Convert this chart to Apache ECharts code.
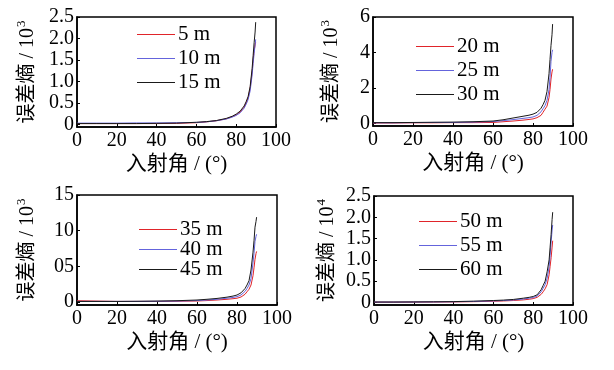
<!DOCTYPE html>
<html><head><meta charset="utf-8">
<script src="https://cdn.jsdelivr.net/npm/echarts@6/dist/echarts.min.js"></script>
<style>html,body{margin:0;padding:0;background:#fff}#c{width:614px;height:370px}</style>
</head><body><div id="c"></div>
<script>
// Incidence angle (degrees)
const angles = [0,10,20,30,40,50,60,65,70,75,78,80,82,84,85,86,87,88,88.5,89,89.5,89.8];

// Panel 1 (x10^3)
const p1Names = ['5 m','10 m','15 m'];
const p1_5m  = [0.02,0.02,0.02,0.02,0.02,0.025,0.04,0.06,0.085,0.13,0.18,0.22,0.29,0.40,0.50,0.62,0.84,1.22,1.50,1.72,1.85,1.92];
const p1_10m = [0.03,0.03,0.03,0.035,0.035,0.04,0.045,0.06,0.085,0.125,0.17,0.21,0.27,0.38,0.47,0.58,0.78,1.15,1.42,1.65,1.85,1.98];
const p1_15m = [0.02,0.02,0.02,0.02,0.025,0.03,0.05,0.065,0.09,0.14,0.19,0.24,0.31,0.43,0.53,0.65,0.88,1.30,1.60,1.90,2.15,2.38];
const p1Ticks = [0,0.5,1.0,1.5,2.0,2.5];

// Panel 2 (x10^3)
const p2Names = ['20 m','25 m','30 m'];
const p2_20m = [0.02,0.02,0.03,0.03,0.04,0.04,0.05,0.09,0.13,0.18,0.22,0.25,0.32,0.45,0.62,0.80,0.97,1.45,1.90,2.50,2.90,3.05];
const p2_25m = [0.03,0.03,0.04,0.05,0.05,0.07,0.10,0.15,0.21,0.28,0.32,0.36,0.45,0.65,0.82,1.00,1.30,1.90,2.60,3.50,4.00,4.15];
const p2_30m = [0.04,0.04,0.05,0.06,0.07,0.09,0.13,0.20,0.30,0.40,0.46,0.52,0.62,0.85,1.05,1.30,1.80,2.80,3.60,4.40,5.00,5.60];
const p2Ticks = [0,2,4,6];

// Panel 3 (x10^3)
const p3Names = ['35 m','40 m','45 m'];
const p3_35m = [0.20,0.15,0.10,0.10,0.10,0.12,0.16,0.22,0.30,0.40,0.48,0.55,0.72,1.10,1.45,1.80,2.40,3.70,4.80,6.00,6.80,7.10];
const p3_40m = [0.10,0.10,0.10,0.10,0.12,0.15,0.22,0.30,0.40,0.55,0.66,0.77,1.00,1.50,1.90,2.40,3.30,5.50,6.80,8.50,9.20,9.50];
const p3_45m = [0.10,0.10,0.10,0.12,0.15,0.20,0.30,0.40,0.52,0.70,0.85,1.00,1.30,1.90,2.40,3.00,4.50,7.00,8.60,10.5,11.3,11.9];
const p3Ticks = [0,5,10,15];
const p3TickLabels = ['0','05','10','15'];

// Panel 4 (x10^4)
const p4Names = ['50 m','55 m','60 m'];
const p4_50m = [0.006,0.006,0.008,0.010,0.012,0.018,0.028,0.035,0.045,0.060,0.075,0.090,0.12,0.19,0.25,0.32,0.42,0.65,0.85,1.05,1.30,1.45];
const p4_55m = [0.008,0.008,0.010,0.012,0.016,0.024,0.036,0.045,0.058,0.080,0.100,0.115,0.15,0.25,0.33,0.42,0.57,0.84,1.10,1.42,1.70,1.82];
const p4_60m = [0.010,0.010,0.012,0.015,0.020,0.030,0.045,0.055,0.070,0.100,0.120,0.140,0.18,0.30,0.40,0.50,0.72,1.00,1.30,1.60,1.95,2.12];
const p4Ticks = [0,0.5,1.0,1.5,2.0,2.5];

const xTicks = [0,20,40,60,80,100];
const xName = '入射角 / (°)';
const yNameBase = '误差熵 / 10';

const colors = ['#e0242a','#6464dc','#1a1a1a'];
const FONT = "'Liberation Serif','Times New Roman','Noto Sans CJK SC',serif";

const panels = [
  {grid:{left:77,top:17,width:199,height:110}, names:p1Names, data:[p1_5m,p1_10m,p1_15m], ymin:-0.06, ymax:2.5, ticks:p1Ticks, fmt:v=>v===0?'0':v.toFixed(1), exp:'3', legend:{left:132,top:19,itemGap:3}, nameGap:37},
  {grid:{left:373,top:17,width:200,height:109}, names:p2Names, data:[p2_20m,p2_25m,p2_30m], ymin:-0.15, ymax:6, ticks:p2Ticks, fmt:v=>String(v), exp:'3', legend:{left:411,top:31,itemGap:3}, nameGap:29},
  {grid:{left:77,top:195,width:200,height:110}, names:p3Names, data:[p3_35m,p3_40m,p3_45m], ymin:-0.4, ymax:15, ticks:p3Ticks, fmt:v=>p3TickLabels[p3Ticks.indexOf(v)], exp:'3', legend:{left:134,top:214,itemGap:-1}, nameGap:37},
  {grid:{left:374,top:196,width:199,height:109}, names:p4Names, data:[p4_50m,p4_55m,p4_60m], ymin:-0.06, ymax:2.5, ticks:p4Ticks, fmt:v=>v===0?'0':v.toFixed(1), exp:'4', legend:{left:414,top:206,itemGap:3}, nameGap:34}
];

const option = {
  animation:false,
  backgroundColor:'#fff',
  grid:[], xAxis:[], yAxis:[], legend:[], series:[]
};

panels.forEach((p,i)=>{
  option.grid.push(Object.assign({show:true,borderColor:'#000',borderWidth:1.5,backgroundColor:'#fff'},p.grid));
  option.xAxis.push({
    type:'value', gridIndex:i, min:0, max:100, interval:20,
    name:xName, nameLocation:'middle', nameGap:27,
    nameTextStyle:{fontFamily:FONT,fontSize:21,color:'#000'},
    axisLine:{show:true,onZero:false,lineStyle:{color:'#000',width:1.5}},
    axisTick:{show:true,inside:true,length:3,lineStyle:{color:'#000'}},
    axisLabel:{fontFamily:FONT,fontSize:20,color:'#000',margin:4},
    splitLine:{show:false}
  });
  option.yAxis.push({
    type:'value', gridIndex:i, min:p.ymin, max:p.ymax,
    name:yNameBase+'{sup|'+p.exp+'}', nameLocation:'middle', nameGap:p.nameGap,
    nameTextStyle:{fontFamily:FONT,fontSize:20,color:'#000',
      rich:{sup:{fontFamily:FONT,fontSize:13,color:'#000',verticalAlign:'top',padding:[0,0,12,1]}}},
    axisLine:{show:true,onZero:false,lineStyle:{color:'#000',width:1.5}},
    axisTick:{show:true,inside:true,length:3,lineStyle:{color:'#000'},customValues:p.ticks},
    axisLabel:{fontFamily:FONT,fontSize:20,color:'#000',margin:3,customValues:p.ticks,formatter:p.fmt},
    splitLine:{show:false}
  });
  option.legend.push({
    orient:'vertical', left:p.legend.left, top:p.legend.top, itemGap:p.legend.itemGap,
    icon:'rect', itemWidth:38, itemHeight:1.2, data:p.names,
    textStyle:{fontFamily:FONT,fontSize:21,color:'#000',padding:[0,0,0,-2]}
  });
  p.data.forEach((vals,k)=>{
    option.series.push({
      type:'line', name:p.names[k], xAxisIndex:i, yAxisIndex:i,
      data:angles.map((a,j)=>[a,vals[j]]),
      symbol:'none', showSymbol:false, smooth:false,
      lineStyle:{color:colors[k],width:1}, itemStyle:{color:colors[k]},
      z: k
    });
  });
});

const chart = echarts.init(document.getElementById('c'),null,{renderer:'canvas'});
chart.setOption(option);
</script>
</body></html>
